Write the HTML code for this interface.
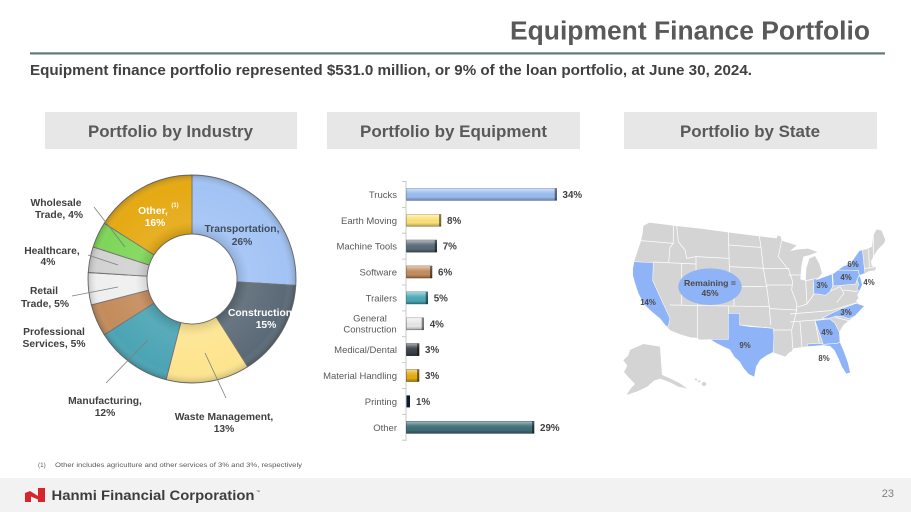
<!DOCTYPE html>
<html>
<head>
<meta charset="utf-8">
<style>
html,body{margin:0;padding:0;background:#fff;}
svg{display:block;font-family:"Liberation Sans",Arial,sans-serif;}
</style>
</head>
<body>
<svg width="911" height="512" viewBox="0 0 911 512" xmlns="http://www.w3.org/2000/svg">
<defs>
  <linearGradient id="gloss" x1="0" y1="0" x2="0" y2="1">
    <stop offset="0" stop-color="#fff" stop-opacity="0.55"/>
    <stop offset="0.35" stop-color="#fff" stop-opacity="0.1"/>
    <stop offset="0.7" stop-color="#000" stop-opacity="0"/>
    <stop offset="1" stop-color="#000" stop-opacity="0.3"/>
  </linearGradient>
  <radialGradient id="dshade" cx="192" cy="279" r="104" gradientUnits="userSpaceOnUse">
    <stop offset="0.43" stop-color="#000" stop-opacity="0.12"/>
    <stop offset="0.55" stop-color="#fff" stop-opacity="0.08"/>
    <stop offset="0.9" stop-color="#fff" stop-opacity="0"/>
    <stop offset="1" stop-color="#000" stop-opacity="0.18"/>
  </radialGradient>
</defs>

<!-- Title -->
<text x="870" y="39.5" text-anchor="end" font-size="25.5" font-weight="bold" fill="#595959" textLength="360" lengthAdjust="spacingAndGlyphs">Equipment Finance Portfolio</text>
<rect x="30" y="52.3" width="855" height="2.2" fill="#66767a"/>
<text x="30" y="75" font-size="14.5" font-weight="bold" fill="#404040" textLength="722" lengthAdjust="spacingAndGlyphs">Equipment finance portfolio represented $531.0 million, or 9% of the loan portfolio, at June 30, 2024.</text>

<!-- Header boxes -->
<rect x="45" y="112" width="252" height="37" fill="#e7e7e7"/>
<rect x="327" y="112" width="253" height="37" fill="#e7e7e7"/>
<rect x="624" y="112" width="253" height="37" fill="#e7e7e7"/>
<text x="88" y="137" font-size="16.5" font-weight="bold" fill="#595959" textLength="165" lengthAdjust="spacingAndGlyphs">Portfolio by Industry</text>
<text x="360" y="137" font-size="16.5" font-weight="bold" fill="#595959" textLength="187" lengthAdjust="spacingAndGlyphs">Portfolio by Equipment</text>
<text x="680" y="137" font-size="16.5" font-weight="bold" fill="#595959" textLength="140" lengthAdjust="spacingAndGlyphs">Portfolio by State</text>

<!-- Donut -->
<g stroke="#6f6f6f" stroke-width="0.9" stroke-linejoin="round">
  <path d="M192,175 A104,104 0 0 1 295.8,285.5 L236.9,281.8 A45,45 0 0 0 192,234 Z" fill="#a2c3f5"/>
  <path d="M295.8,285.5 A104,104 0 0 1 247.7,366.8 L216.1,317.0 A45,45 0 0 0 236.9,281.8 Z" fill="#5b6a77"/>
  <path d="M247.7,366.8 A104,104 0 0 1 166.1,379.7 L180.8,322.6 A45,45 0 0 0 216.1,317.0 Z" fill="#fde48e"/>
  <path d="M166.1,379.7 A104,104 0 0 1 104.2,334.7 L154.0,303.1 A45,45 0 0 0 180.8,322.6 Z" fill="#4ba4b4"/>
  <path d="M104.2,334.7 A104,104 0 0 1 91.3,304.9 L148.4,290.2 A45,45 0 0 0 154.0,303.1 Z" fill="#c48b5b"/>
  <path d="M91.3,304.9 A104,104 0 0 1 88.2,272.5 L147.1,276.2 A45,45 0 0 0 148.4,290.2 Z" fill="#efefef"/>
  <path d="M88.2,272.5 A104,104 0 0 1 93.1,246.9 L149.2,265.1 A45,45 0 0 0 147.1,276.2 Z" fill="#d2d2d2"/>
  <path d="M93.1,246.9 A104,104 0 0 1 104.2,223.3 L154.0,254.9 A45,45 0 0 0 149.2,265.1 Z" fill="#7ed658"/>
  <path d="M104.2,223.3 A104,104 0 0 1 192,175 L192,234 A45,45 0 0 0 154.0,254.9 Z" fill="#e5a912"/>
</g>
<path d="M192,175 A104,104 0 1 1 191.9,175 Z M192,234 A45,45 0 1 0 192.1,234 Z" fill="url(#dshade)" fill-rule="evenodd"/>

<!-- Donut leader lines -->
<g stroke="#7f7f7f" stroke-width="0.8" fill="none">
  <line x1="94" y1="207" x2="125" y2="247"/>
  <line x1="88" y1="255" x2="118" y2="265"/>
  <line x1="72" y1="296" x2="118" y2="287"/>
  <line x1="106" y1="383" x2="148" y2="340"/>
  <line x1="226" y1="398" x2="205" y2="353"/>
</g>

<!-- Donut labels -->
<g font-size="10.3" font-weight="bold" fill="#404040" text-anchor="middle">
  <text x="56" y="206">Wholesale</text>
  <text x="59" y="218">Trade, 4%</text>
  <text x="52" y="254">Healthcare,</text>
  <text x="48" y="265">4%</text>
  <text x="44" y="294">Retail</text>
  <text x="45" y="307">Trade, 5%</text>
  <text x="54" y="335">Professional</text>
  <text x="54" y="347">Services, 5%</text>
  <text x="105" y="404">Manufacturing,</text>
  <text x="105" y="416">12%</text>
  <text x="224" y="420">Waste Management,</text>
  <text x="224" y="432">13%</text>
  <text x="242" y="232" fill="#3f4c5a">Transportation,</text>
  <text x="242" y="245" fill="#3f4c5a">26%</text>
  <text x="260" y="316" fill="#ffffff">Construction</text>
  <text x="266" y="328" fill="#ffffff">15%</text>
  <text x="153" y="214" fill="#ffffff">Other,</text>
  <text x="155" y="226" fill="#ffffff">16%</text>
  <text x="175" y="207" font-size="6" fill="#ffffff">(1)</text>
</g>

<!-- Bar chart -->
<line x1="406" y1="181" x2="406" y2="441" stroke="#c8c8c8" stroke-width="1"/>
<g stroke="#c8c8c8" stroke-width="1">
  <line x1="402" y1="181.5" x2="406" y2="181.5"/>
  <line x1="402" y1="207.4" x2="406" y2="207.4"/>
  <line x1="402" y1="233.2" x2="406" y2="233.2"/>
  <line x1="402" y1="259.1" x2="406" y2="259.1"/>
  <line x1="402" y1="285.0" x2="406" y2="285.0"/>
  <line x1="402" y1="310.9" x2="406" y2="310.9"/>
  <line x1="402" y1="336.7" x2="406" y2="336.7"/>
  <line x1="402" y1="362.6" x2="406" y2="362.6"/>
  <line x1="402" y1="388.5" x2="406" y2="388.5"/>
  <line x1="402" y1="414.4" x2="406" y2="414.4"/>
  <line x1="402" y1="440.2" x2="406" y2="440.2"/>
</g>
<g>
  <rect x="406.5" y="188.4" width="150.2" height="12" fill="#9bbcf0" stroke="#6a86b0" stroke-width="0.6"/>
  <rect x="406.5" y="214.3" width="34.5" height="12" fill="#fde17a" stroke="#a89a4a" stroke-width="0.6"/>
  <rect x="406.5" y="240.1" width="30.2" height="12" fill="#5a6b78" stroke="#36434c" stroke-width="0.6"/>
  <rect x="406.5" y="266.0" width="25.5" height="12" fill="#c38d5e" stroke="#7a5434" stroke-width="0.6"/>
  <rect x="406.5" y="291.9" width="21.2" height="12" fill="#4aaab9" stroke="#2b6b75" stroke-width="0.6"/>
  <rect x="406.5" y="317.8" width="17.2" height="12" fill="#e8e8e8" stroke="#8a8a8a" stroke-width="0.6"/>
  <rect x="406.5" y="343.6" width="12.5" height="12" fill="#3b4249" stroke="#1a1e22" stroke-width="0.6"/>
  <rect x="406.5" y="369.5" width="12.5" height="12" fill="#e8ab12" stroke="#7a5a06" stroke-width="0.6"/>
  <rect x="406.5" y="395.4" width="3.5" height="12" fill="#0f1a2e"/>
  <rect x="406.5" y="421.3" width="127.5" height="12" fill="#3f6f79" stroke="#1f3a40" stroke-width="0.6"/>
</g>
<g fill="url(#gloss)">
  <rect x="406.5" y="188.4" width="150.2" height="12"/>
  <rect x="406.5" y="214.3" width="34.5" height="12"/>
  <rect x="406.5" y="240.1" width="30.2" height="12"/>
  <rect x="406.5" y="266.0" width="25.5" height="12"/>
  <rect x="406.5" y="291.9" width="21.2" height="12"/>
  <rect x="406.5" y="317.8" width="17.2" height="12"/>
  <rect x="406.5" y="343.6" width="12.5" height="12"/>
  <rect x="406.5" y="369.5" width="12.5" height="12"/>
  <rect x="406.5" y="421.3" width="127.5" height="12"/>
</g>
<g fill="#000" fill-opacity="0.45">
  <rect x="554.7" y="188.4" width="2" height="12"/>
  <rect x="439" y="214.3" width="2" height="12"/>
  <rect x="434.7" y="240.1" width="2" height="12"/>
  <rect x="430" y="266.0" width="2" height="12"/>
  <rect x="425.7" y="291.9" width="2" height="12"/>
  <rect x="421.7" y="317.8" width="2" height="12"/>
  <rect x="417" y="343.6" width="2" height="12"/>
  <rect x="417" y="369.5" width="2" height="12"/>
  <rect x="532" y="421.3" width="2" height="12"/>
</g>
<g font-size="9.5" fill="#595959" text-anchor="end">
  <text x="397" y="197.9">Trucks</text>
  <text x="397" y="223.8">Earth Moving</text>
  <text x="397" y="249.6">Machine Tools</text>
  <text x="397" y="275.5">Software</text>
  <text x="397" y="301.4">Trailers</text>
  <text x="370" y="321.5" text-anchor="middle">General</text>
  <text x="370" y="332.5" text-anchor="middle">Construction</text>
  <text x="397" y="353.1">Medical/Dental</text>
  <text x="397" y="379.0">Material Handling</text>
  <text x="397" y="404.9">Printing</text>
  <text x="397" y="430.8">Other</text>
</g>
<g font-size="9.8" font-weight="bold" fill="#404040">
  <text x="562.5" y="197.9">34%</text>
  <text x="447" y="223.8">8%</text>
  <text x="442.7" y="249.6">7%</text>
  <text x="438" y="275.5">6%</text>
  <text x="433.7" y="301.4">5%</text>
  <text x="429.7" y="327.3">4%</text>
  <text x="425" y="353.1">3%</text>
  <text x="425" y="379.0">3%</text>
  <text x="416" y="404.9">1%</text>
  <text x="540" y="430.8">29%</text>
</g>

<!-- Map (zoom-space coordinates) -->
<g transform="translate(610,190) scale(0.33333)">
  <path fill="#d4d4d4" d="M100,108 L118,98 L200,108 L280,117 L355,127 L440,138 L500,145 L503,137 L512,139 L515,152 L560,166 L540,183 L565,178 L595,176 L622,186 L600,195 L580,200 L574,230 L571,268 L587,272 L589,235 L598,206 L615,198 L628,222 L636,250 L626,262 L622,268 L650,258 L690,240 L700,228 L720,222 L735,200 L748,182 L772,177 L786,170 L790,136 L800,118 L815,122 L826,150 L822,160 L802,180 L790,200 L783,213 L785,228 L798,232 L795,241 L778,243 L765,250 L748,256 L752,264 L757,285 L748,305 L742,313 L745,325 L738,333 L746,342 L763,348 L750,362 L735,378 L716,392 L700,405 L688,426 L690,455 L703,486 L715,520 L721,548 L709,552 L696,532 L685,506 L673,481 L660,469 L640,463 L615,466 L591,469 L566,473 L548,475 L546,483 L536,489 L526,500 L506,493 L489,487 L471,496 L451,510 L439,530 L433,561 L416,553 L401,536 L389,516 L373,501 L359,479 L341,471 L321,461 L300,448 L268,449 L262,444 L241,442 L211,433 L181,421 L172,412 L165,405 L150,386 L120,361 L100,341 L85,311 L75,281 L68,256 L68,236 L72,215 L82,186 L92,156 L98,131 Z"/>
  <!-- state borders -->
  <g stroke="#ffffff" stroke-width="2.2" fill="none" stroke-linejoin="round">
    <path d="M92,152 L190,160"/>
    <path d="M190,105 L190,160 L180,172 L176,216"/>
    <path d="M200,107 L205,155 L225,180 L230,205 L258,200"/>
    <path d="M130,216 L258,222"/>
    <path d="M258,200 L258,272 L372,278"/>
    <path d="M262,272 L262,448"/>
    <path d="M180,345 L478,350"/>
    <path d="M215,220 L215,345"/>
    <path d="M372,278 L372,350"/>
    <path d="M355,350 L355,370"/>
    <path d="M355,165 L452,172"/>
    <path d="M358,230 L462,235"/>
    <path d="M372,289 L472,290"/>
    <path d="M258,200 L358,205"/>
    <path d="M355,127 L358,230 L360,278"/>
    <path d="M448,139 L453,172 L460,235"/>
    <path d="M460,235 L470,290 L478,350 L482,405"/>
    <path d="M460,235 L538,235"/>
    <path d="M515,152 L505,200 L532,235"/>
    <path d="M470,285 L548,285"/>
    <path d="M535,255 L572,255"/>
    <path d="M535,235 L548,275 L545,300 L560,340 L560,365"/>
    <path d="M480,356 L560,360"/>
    <path d="M489,420 L542,420"/>
    <path d="M560,362 L545,420 L548,474"/>
    <path d="M587,272 L591,342"/>
    <path d="M610,266 L612,312"/>
    <path d="M540,372 L662,362"/>
    <path d="M560,352 L591,342 L612,312"/>
    <path d="M570,396 L576,472"/>
    <path d="M540,396 L640,388"/>
    <path d="M615,392 L628,460"/>
    <path d="M662,362 L740,338"/>
    <path d="M660,304 L690,290 L702,310 L680,338"/>
    <path d="M700,300 L742,305"/>
    <path d="M676,382 L716,392"/>
    <path d="M586,272 L624,266"/>
    <path d="M762,235 L792,233"/>
    <path d="M776,178 L778,232"/>
    <path d="M790,136 L790,212"/>
    <path d="M389,405 L490,415"/>
  </g>
  <!-- highlighted states -->
  <g fill="#8fb3f7" stroke="#ffffff" stroke-width="1.6" stroke-linejoin="round">
    <path d="M72,215 L130,218 L128,272 L180,385 L176,405 L172,412 L165,405 L150,386 L120,361 L100,341 L85,311 L75,281 L68,256 L68,236 Z"/>
    <path d="M355,370 L389,370 L389,405 L420,410 L455,412 L490,415 L492,440 L490,478 L489,487 L471,496 L451,510 L439,530 L433,561 L416,553 L401,536 L389,516 L373,501 L359,479 L341,471 L321,461 L300,448 L355,448 Z"/>
    <path d="M610,266 L622,268 L650,258 L666,252 L668,290 L660,305 L646,316 L626,312 L612,312 Z"/>
    <path d="M668,252 L684,240 L745,241 L748,256 L741,270 L737,282 L670,288 Z"/>
    <path d="M684,240 L700,228 L720,222 L735,200 L748,182 L757,180 L760,205 L763,235 L765,250 L748,256 L745,241 Z"/>
    <path d="M748,256 L752,264 L757,285 L748,305 L741,296 L746,283 L741,270 Z"/>
    <path d="M636,385 L660,372 L690,358 L738,340 L746,342 L763,348 L750,362 L735,378 L716,386 L700,380 L678,378 L660,384 Z"/>
    <path d="M615,392 L660,387 L675,400 L688,426 L690,456 L682,460 L640,463 L632,440 L622,412 Z"/>
    <path d="M592,462 L632,460 L640,463 L682,460 L690,456 L703,486 L715,520 L721,548 L709,552 L696,532 L685,506 L673,481 L660,469 L640,466 L615,468 L592,470 Z"/>
  </g>
  <!-- Alaska & Hawaii -->
  <path fill="#d4d4d4" d="M60,480 L100,462 L150,470 L156,555 L180,565 L210,580 L232,596 L205,590 L178,576 L150,566 L132,572 L112,590 L82,604 L50,615 L62,596 L75,582 L56,562 L42,546 L52,527 L40,511 L55,496 Z"/>
  <g fill="#d4d4d4">
    <ellipse cx="258" cy="568" rx="4" ry="3"/>
    <ellipse cx="268" cy="574" rx="4" ry="3"/>
    <ellipse cx="282" cy="582" rx="7" ry="6"/>
  </g>
  <ellipse cx="300" cy="290" rx="95" ry="55" fill="#8fb3f7"/>
</g>
<g font-size="7.8" font-weight="bold" fill="#4a4a4a" text-anchor="middle">
  <text x="710" y="286" font-size="8.5" textLength="52" lengthAdjust="spacingAndGlyphs">Remaining =</text>
  <text x="710" y="296" font-size="8.5">45%</text>
  <text x="648" y="305">14%</text>
  <text x="745" y="348">9%</text>
  <text x="822" y="288">3%</text>
  <text x="846" y="280">4%</text>
  <text x="853" y="267">6%</text>
  <text x="869" y="285">4%</text>
  <text x="846" y="315">3%</text>
  <text x="827" y="335">4%</text>
  <text x="824" y="361">8%</text>
</g>

<!-- Footnote -->
<text x="38" y="467" font-size="6.3" fill="#595959">(1)</text>
<text x="55" y="467" font-size="6.3" fill="#595959" textLength="247" lengthAdjust="spacingAndGlyphs">Other includes agriculture and other services of 3% and 3%, respectively</text>

<!-- Footer -->
<rect x="0" y="478" width="911" height="34" fill="#f2f2f2"/>
<polygon points="25,493 30,491 38,496 38,488 45,488 45,502 38,502 38,499.5 31,496.5 31,502 25,502" fill="#d7252d"/>
<text x="51.5" y="500" font-size="13.5" font-weight="bold" fill="#3d3d3d" textLength="203" lengthAdjust="spacingAndGlyphs">Hanmi Financial Corporation</text>
<text x="256" y="493" font-size="4" fill="#3d3d3d">™</text>
<text x="894" y="497" font-size="11" fill="#7f7f7f" text-anchor="end">23</text>
</svg>
</body>
</html>
